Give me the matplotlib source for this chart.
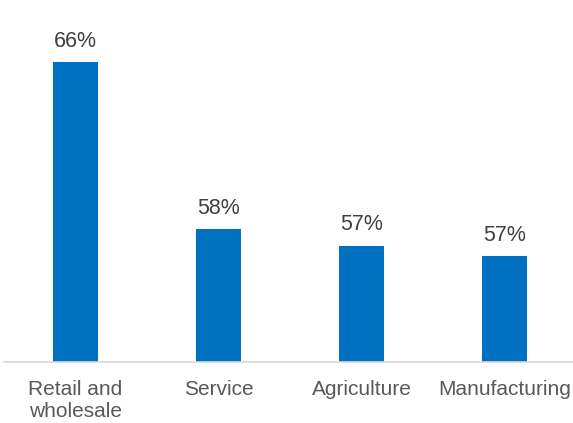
import matplotlib
matplotlib.use("Agg")
import matplotlib.pyplot as plt

categories = ["Retail and\nwholesale", "Service", "Agriculture", "Manufacturing"]
shares = [66.0, 58.0, 57.2, 56.7]
y_floor = 51.63
y_ceiling = 68.97

bar_color = "#0070C0"
value_color = "#404040"
label_color = "#595959"

plt.rcParams["font.family"] = ["Liberation Sans", "DejaVu Sans"]

fig = plt.figure(figsize=(5.73, 4.23), dpi=100)
ax = fig.add_axes([4 / 573, 61 / 423, 572 / 573, 362 / 423])

x = list(range(len(categories)))
bars = ax.bar(x, [v - y_floor for v in shares], bottom=y_floor, width=0.315,
              color=bar_color, zorder=2)

for xi, v in zip(x, shares):
    ax.annotate(f"{round(v):d}%", xy=(xi, v), xytext=(0, 7.5),
                textcoords="offset points", ha="center", va="bottom",
                fontsize=15.5, color=value_color)

ax.set_xlim(-0.5, len(categories) - 0.5)
ax.set_ylim(y_floor, y_ceiling)
ax.set_xticks(x)
ax.set_xticklabels(categories, fontsize=15, color=label_color, linespacing=1.2)
ax.tick_params(axis="x", length=0, pad=13)
ax.set_yticks([])
for side in ("top", "right", "left"):
    ax.spines[side].set_visible(False)
ax.spines["bottom"].set_color("#D9D9D9")
ax.spines["bottom"].set_linewidth(1.2)

fig.savefig("out.png", dpi=100)
